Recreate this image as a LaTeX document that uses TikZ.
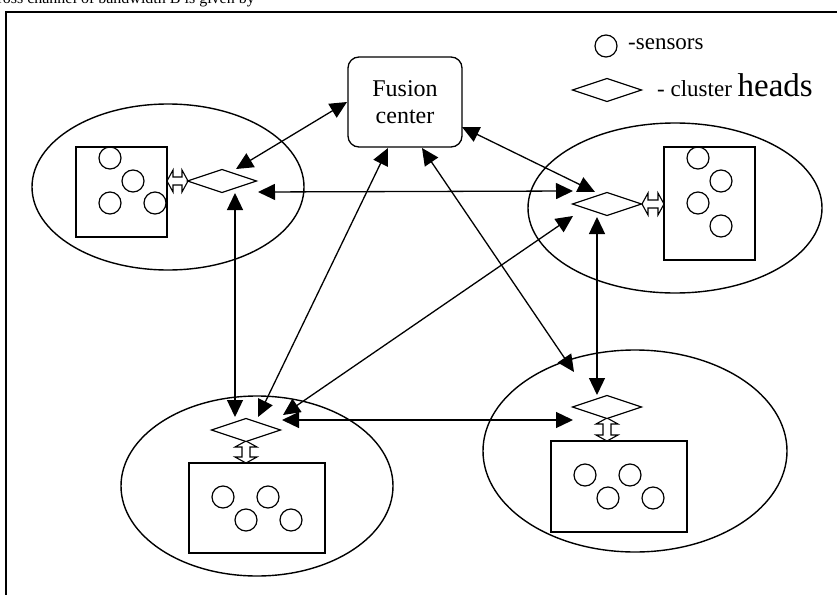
\documentclass[tikz,border=0pt]{standalone}
\usepackage{fontspec}
\setmainfont{Liberation Serif}
\usetikzlibrary{arrows.meta,shapes.geometric}
\tikzset{
  blob/.style={draw,line width=1.4pt},
  grp/.style={draw,line width=1.3pt},
  sens/.style={draw,circle,line width=1.2pt,minimum size=22pt,inner sep=0pt},
  link/.style={line width=1.3pt,{Triangle[length=17pt,width=16pt]}-{Triangle[length=17pt,width=16pt]}},
  hollow/.style={draw,line width=1.1pt,fill=white},
  chead/.style={draw,line width=1.2pt,fill=white},
}
% diamond cluster head centred at (#1,#2)
\newcommand\mychead[2]{\draw[chead] (#1-34.5,#2) -- (#1,#2-11.5) -- (#1+34.5,#2) -- (#1,#2+11.5) -- cycle;}
% horizontal hollow double arrow from x=#1 to x=#2 at y=#3
\newcommand\myharrow[3]{\draw[hollow] (#1,#3) -- (#1+6,#3-11) -- (#1+6,#3-4) -- (#2-6,#3-4) -- (#2-6,#3-11) -- (#2,#3) -- (#2-6,#3+11) -- (#2-6,#3+4) -- (#1+6,#3+4) -- (#1+6,#3+11) -- cycle;}
% vertical hollow double arrow from y=#2 to y=#3 at x=#1
\newcommand\myvarrow[3]{\draw[hollow] (#1,#2) -- (#1-11,#2+6) -- (#1-4,#2+6) -- (#1-4,#3-6) -- (#1-11,#3-6) -- (#1,#3) -- (#1+11,#3-6) -- (#1+4,#3-6) -- (#1+4,#2+6) -- (#1+11,#2+6) -- cycle;}
\begin{document}
\begin{tikzpicture}[x=1pt,y=-1pt]
\useasboundingbox (0,0) rectangle (837,594);
\clip (0,0) rectangle (837,594);
% cut-off line of text above the figure
\node[anchor=base east,inner sep=0pt,font=\fontsize{16}{19}\selectfont] (toptext) at (255,4) {across channel of bandwidth B is given by};
% frame
\draw[line width=1.5pt] (6,640) -- (6,12) -- (880,12);

% ellipses
\draw[blob] (168,187) ellipse [x radius=136,y radius=83];
\draw[blob] (675,208) ellipse [x radius=147,y radius=85];
\draw[blob] (257,486) ellipse [x radius=136,y radius=90];
\draw[blob] (635,451) ellipse [x radius=152,y radius=101];

% fusion center
\node[draw,line width=1.3pt,rounded corners=11pt,minimum width=114pt,minimum height=90pt,align=center,font=\fontsize{24}{27}\selectfont] (fc) at (405,102) {Fusion\\center};

% legend
\node[sens] (legc) at (606,46) {};
\node[anchor=base west,inner sep=0pt,font=\fontsize{23}{26}\selectfont] (legs) at (628,50) {-sensors};
\mychead{607}{90}
\node[anchor=base west,inner sep=0pt] (legh) at (657,96) {\fontsize{23}{26}\selectfont - cluster \fontsize{33}{36}\selectfont heads};

% top-left cluster
\draw[grp] (76,147) rectangle (167,237);
\node[sens] (s1) at (110,158) {};
\node[sens] (s2) at (133,181) {};
\node[sens] (s3) at (110,203) {};
\node[sens] (s4) at (155,203) {};
\myharrow{167}{188}{181}
\mychead{222}{181}

% top-right cluster
\draw[grp] (664,147) rectangle (755,260);
\node[sens] (s5) at (698,158) {};
\node[sens] (s6) at (721,181) {};
\node[sens] (s7) at (698,203) {};
\node[sens] (s8) at (721,226) {};
\myharrow{642}{664}{204}
\mychead{607}{204}

% bottom-left cluster
\draw[grp] (189,463) rectangle (325,553);
\node[sens] (s9) at (223,497) {};
\node[sens] (s10) at (268,497) {};
\node[sens] (s11) at (246,520) {};
\node[sens] (s12) at (291,520) {};
\myvarrow{246}{441}{463}
\mychead{246}{430}

% bottom-right cluster
\draw[grp] (551,441) rectangle (687,532);
\node[sens] (s13) at (585,475) {};
\node[sens] (s14) at (630,475) {};
\node[sens] (s15) at (608,498) {};
\node[sens] (s16) at (653,498) {};
\myvarrow{607}{418}{441}
\mychead{607}{407}

% connector end points
\coordinate (fcL) at (347,102);
\coordinate (fcR) at (462,127);
\coordinate (fcB1) at (388,148);
\coordinate (fcB2) at (422,148);
\coordinate (tlA) at (236,169);
\coordinate (tlR) at (258,192);
\coordinate (tlB) at (235,193);
\coordinate (trA) at (595,192);
\coordinate (trL) at (573,191);
\coordinate (trD) at (573,216);
\coordinate (trB) at (597,217);
\coordinate (blV) at (235,417);
\coordinate (blF) at (258,417);
\coordinate (blD) at (283,415);
\coordinate (blH) at (282,420);
\coordinate (brF) at (574,372);
\coordinate (brV) at (597,395);
\coordinate (brH) at (573,420);

\draw[link] (tlA) -- (fcL);
\draw[link] (tlR) -- (trL);
\draw[link] (tlB) -- (blV);
\draw[link] (blF) -- (fcB1);
\draw[link] (brF) -- (fcB2);
\draw[link] (fcR) -- (trA);
\draw[link] (blD) -- (trD);
\draw[link] (trB) -- (brV);
\draw[link] (blH) -- (brH);
\end{tikzpicture}
\end{document}
